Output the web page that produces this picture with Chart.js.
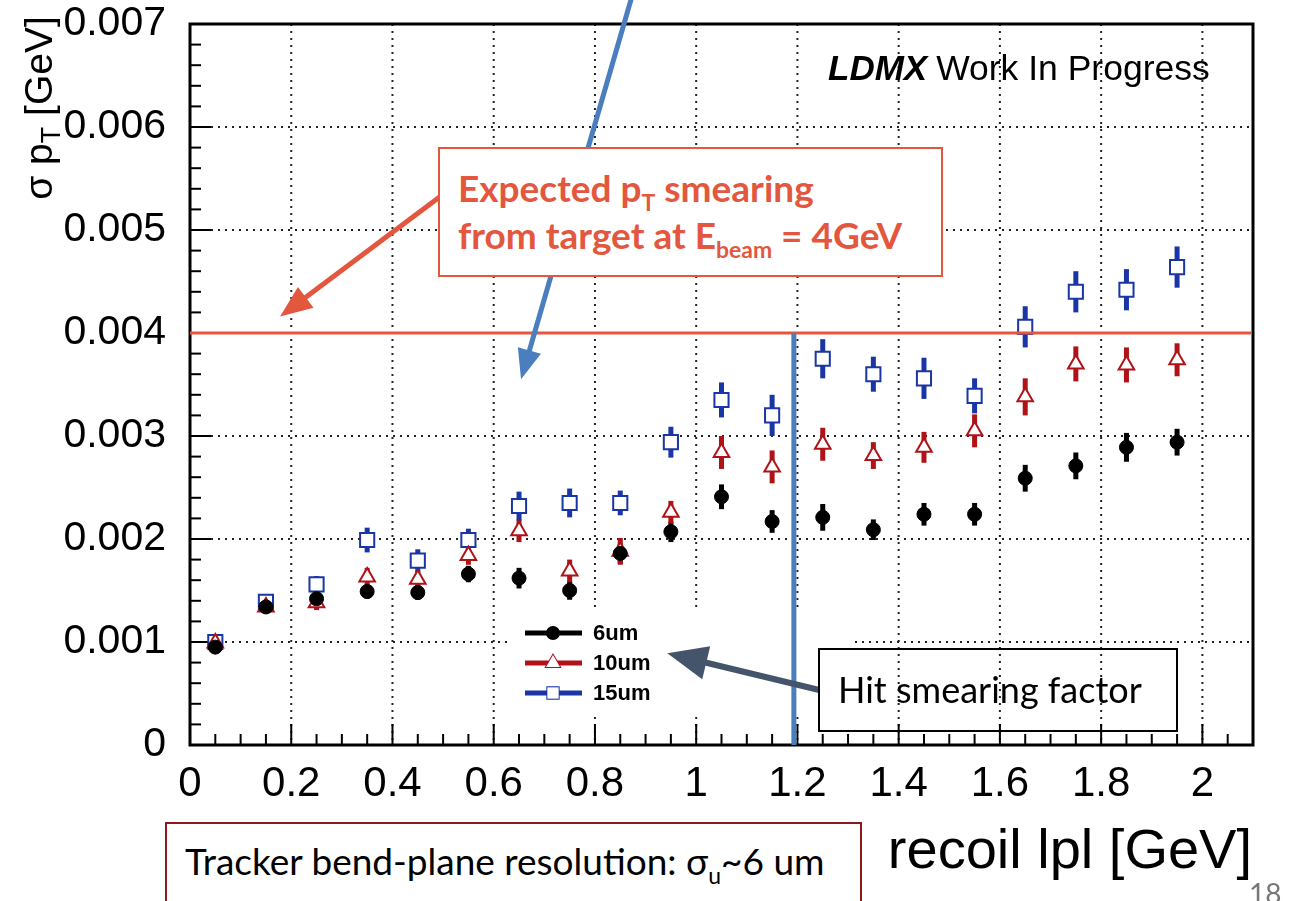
<!DOCTYPE html>
<html>
<head>
<meta charset="utf-8">
<script src="https://cdn.jsdelivr.net/npm/chart.js@4.4.0/dist/chart.umd.min.js"></script>
<style>
  body { margin: 0; background: #fff; overflow: hidden; }
  #wrap { position: relative; width: 1294px; height: 901px; overflow: hidden; }
  #chart { position: absolute; left: 0; top: 0; }
  .box { position: absolute; box-sizing: border-box; font-family: Lato, "Open Sans", sans-serif; white-space: nowrap; }
  .box sub { font-size: 0.62em; vertical-align: -0.38em; line-height: 0; }
  #expBox { left: 438px; top: 147px; width: 505px; height: 130px; border: 2px solid #e4573f; background: #fff;
            color: #e4573f; font-weight: bold; font-size: 37px; line-height: 47px; padding: 15px 0 0 18px; }
  #hitBox { left: 818px; top: 648px; width: 360px; height: 84px; border: 2px solid #000;
            color: #000; font-size: 36px; line-height: 40px; padding: 19px 0 0 18px; }
  #trkBox { left: 165px; top: 822px; width: 697px; height: 100px; border: 2px solid #8b1a1a; background: #fff;
            color: #000; font-size: 37px; line-height: 40px; padding: 17px 0 0 18px; }
  #pageNum { position: absolute; left: 1249px; top: 876px; font-family: Lato, sans-serif; font-size: 28px; color: #777; }
</style>
</head>
<body>
<div id="wrap">
  <canvas id="chart" width="1294" height="901"></canvas>
  <div class="box" id="expBox"><div>Expected p<sub>T</sub> smearing</div><div>from target at E<sub>beam</sub> = 4GeV</div></div>
  <div class="box" id="hitBox">Hit smearing factor</div>
  <div class="box" id="trkBox">Tracker bend-plane resolution: σ<sub>u</sub>~6 um</div>
  <div id="pageNum">18</div>
</div>
<script>
// recoil |p| bin centres [GeV]
const xVals = [0.05, 0.15, 0.25, 0.35, 0.45, 0.55, 0.65, 0.75, 0.85, 0.95,
               1.05, 1.15, 1.25, 1.35, 1.45, 1.55, 1.65, 1.75, 1.85, 1.95];

// sigma pT [GeV] for each hit smearing
const sigma6um = [0.00095, 0.00134, 0.00142, 0.00149, 0.00148, 0.00166, 0.00162, 0.0015, 0.00186, 0.00207,
                  0.00241, 0.00217, 0.00221, 0.00209, 0.00224, 0.00224, 0.00259, 0.00271, 0.00289, 0.00294];
const err6um   = [0.00004, 0.00005, 0.00006, 0.00007, 0.00007, 0.00008, 0.0001, 0.00009, 0.0001, 0.0001,
                  0.00012, 0.00011, 0.00013, 0.0001, 0.00011, 0.00011, 0.00013, 0.00013, 0.00014, 0.00013];

const sigma10um = [0.00099, 0.00134, 0.00138, 0.00163, 0.00161, 0.00184, 0.00208, 0.00169, 0.00188, 0.00226,
                   0.00284, 0.0027, 0.00292, 0.00281, 0.00289, 0.00305, 0.00338, 0.0037, 0.00369, 0.00374];
const err10um   = [0.00004, 0.00005, 0.00007, 0.00009, 0.00008, 0.00009, 0.00011, 0.00011, 0.00013, 0.00011,
                   0.00016, 0.00016, 0.00016, 0.00013, 0.00015, 0.00016, 0.00018, 0.00017, 0.00017, 0.00016];

const sigma15um = [0.001, 0.00139, 0.00156, 0.00199, 0.00179, 0.00199, 0.00232, 0.00235, 0.00235, 0.00294,
                   0.00335, 0.0032, 0.00375, 0.0036, 0.00356, 0.00339, 0.00406, 0.0044, 0.00442, 0.00464];
const err15um   = [0.00005, 0.00005, 0.00008, 0.00012, 0.00011, 0.00011, 0.00014, 0.00014, 0.00012, 0.00015,
                   0.00017, 0.0002, 0.00019, 0.00017, 0.0002, 0.00017, 0.0002, 0.0002, 0.0002, 0.0002];

const seriesNames = ['6um', '10um', '15um'];

// axis ticks
const xTicks = [0, 0.2, 0.4, 0.6, 0.8, 1, 1.2, 1.4, 1.6, 1.8, 2];
const xTickLabels = ['0', '0.2', '0.4', '0.6', '0.8', '1', '1.2', '1.4', '1.6', '1.8', '2'];
const yTicks = [0, 0.001, 0.002, 0.003, 0.004, 0.005, 0.006, 0.007];
const yTickLabels = ['0', '0.001', '0.002', '0.003', '0.004', '0.005', '0.006', '0.007'];

// overlay annotations, in data units
const expectedSmearing = 0.004;
const hitLineX = 1.193;
const blueArrow = [0.872, 0.00725, 0.654, 0.00355];
const redArrow = [0.493, 0.00532, 0.178, 0.00416];
const slateArrow = [1.243, 0.000534, 0.943, 0.00089];

const BLACK = '#000000';
const RED = '#b01218';
const BLUE = '#1a35a5';
const SLIDE_RED = '#e4573f';
const SLIDE_BLUE = '#4a7ebf';
const SLATE = '#44546a';
const FONT = '"Liberation Sans", Arial, Helvetica, sans-serif';

function toPoints(vals) {
  return vals.map((v, i) => ({ x: xVals[i], y: v }));
}

function line(ctx, x1, y1, x2, y2) {
  ctx.beginPath();
  ctx.moveTo(x1, y1);
  ctx.lineTo(x2, y2);
  ctx.stroke();
}

function arrow(ctx, x1, y1, x2, y2, color, width, headLen, headHalf) {
  const ang = Math.atan2(y2 - y1, x2 - x1);
  const bx = x2 - Math.cos(ang) * headLen;
  const by = y2 - Math.sin(ang) * headLen;
  ctx.save();
  ctx.strokeStyle = color;
  ctx.fillStyle = color;
  ctx.lineWidth = width;
  line(ctx, x1, y1, bx + Math.cos(ang) * 2, by + Math.sin(ang) * 2);
  ctx.beginPath();
  ctx.moveTo(x2, y2);
  ctx.lineTo(bx + Math.sin(ang) * headHalf, by - Math.cos(ang) * headHalf);
  ctx.lineTo(bx - Math.sin(ang) * headHalf, by + Math.cos(ang) * headHalf);
  ctx.closePath();
  ctx.fill();
  ctx.restore();
}

// ROOT-like frame: dotted grid, white legend pad, frame, inward ticks, error bars
const rootFrame = {
  id: 'rootFrame',
  beforeDatasetsDraw(chart) {
    const { ctx, chartArea: a, scales: { x, y } } = chart;
    ctx.save();

    // dotted grid
    ctx.strokeStyle = '#222';
    ctx.lineWidth = 2;
    ctx.setLineDash([2, 5]);
    xTicks.forEach(v => {
      if (v === 0) return;
      const px = x.getPixelForValue(v);
      line(ctx, px, a.top, px, a.bottom);
    });
    yTicks.forEach(v => {
      if (v === 0) return;
      const py = y.getPixelForValue(v);
      line(ctx, a.left, py, a.right, py);
    });
    ctx.setLineDash([]);

    // legend pad hides the grid
    ctx.fillStyle = '#fff';
    ctx.fillRect(a.left + 322, a.top + 586, 340, 103);

    // frame
    ctx.strokeStyle = '#000';
    ctx.lineWidth = 3;
    ctx.strokeRect(a.left, a.top, a.right - a.left, a.bottom - a.top);

    // inward ticks
    ctx.lineWidth = 2;
    for (let v = 0; v <= 2.1 + 1e-9; v += 0.05) {
      const px = x.getPixelForValue(v);
      const major = Math.abs(v / 0.2 - Math.round(v / 0.2)) < 1e-6;
      line(ctx, px, a.bottom, px, a.bottom - (major ? 21 : 11));
    }
    for (let v = 0; v <= 0.007 + 1e-9; v += 0.0002) {
      const py = y.getPixelForValue(v);
      const major = Math.abs(v / 0.001 - Math.round(v / 0.001)) < 1e-6;
      line(ctx, a.left, py, a.left + (major ? 21 : 11), py);
    }

    // error bars
    const sets = [[sigma6um, err6um, BLACK], [sigma10um, err10um, RED], [sigma15um, err15um, BLUE]];
    ctx.lineWidth = 5;
    sets.forEach(([vals, errs, col]) => {
      ctx.strokeStyle = col;
      vals.forEach((v, i) => {
        const px = x.getPixelForValue(xVals[i]);
        line(ctx, px, y.getPixelForValue(v - errs[i]), px, y.getPixelForValue(v + errs[i]));
      });
    });
    ctx.restore();
  },
  afterDatasetsDraw(chart) {
    const { ctx, chartArea: a, scales: { x, y } } = chart;
    ctx.save();

    // legend entries
    const legendStyles = [
      { color: BLACK, style: 'circle', r: 6, fill: BLACK },
      { color: RED, style: 'triangle', r: 8, fill: '#fff' },
      { color: BLUE, style: 'rect', r: 8, fill: '#fff' }
    ];
    legendStyles.forEach((s, i) => {
      const rowY = a.top + 609 + i * 30;
      ctx.strokeStyle = s.color;
      ctx.lineWidth = 5;
      line(ctx, a.left + 335, rowY, a.left + 392, rowY);
      ctx.fillStyle = s.fill;
      ctx.lineWidth = 2;
      Chart.helpers.drawPoint(ctx, { pointStyle: s.style, radius: s.r, borderWidth: 2 }, a.left + 363, rowY);
      ctx.fill();
      ctx.fillStyle = '#000';
      ctx.font = 'bold 22px ' + FONT;
      ctx.textBaseline = 'middle';
      ctx.fillText(seriesNames[i], a.left + 403, rowY + 1);
    });

    // LDMX Work In Progress
    ctx.textBaseline = 'alphabetic';
    ctx.fillStyle = '#000';
    ctx.font = 'italic bold 35px ' + FONT;
    ctx.fillText('LDMX', 828, 80);
    const lw = ctx.measureText('LDMX').width;
    ctx.font = '35.5px ' + FONT;
    ctx.fillText('Work In Progress', 828 + lw + 9, 80);

    // expected smearing line
    const yRef = y.getPixelForValue(expectedSmearing);
    ctx.strokeStyle = SLIDE_RED;
    ctx.lineWidth = 3;
    line(ctx, a.left, yRef, a.right - 2, yRef);

    // hit smearing marker line
    const xHit = x.getPixelForValue(hitLineX);
    ctx.strokeStyle = SLIDE_BLUE;
    ctx.lineWidth = 5;
    line(ctx, xHit, yRef, xHit, a.bottom);

    const px = (v) => x.getPixelForValue(v);
    const py = (v) => y.getPixelForValue(v);
    arrow(ctx, px(blueArrow[0]), py(blueArrow[1]), px(blueArrow[2]), py(blueArrow[3]), SLIDE_BLUE, 5, 30, 12);
    arrow(ctx, px(redArrow[0]), py(redArrow[1]), px(redArrow[2]), py(redArrow[3]), SLIDE_RED, 5, 32, 13);
    arrow(ctx, px(slateArrow[0]), py(slateArrow[1]), px(slateArrow[2]), py(slateArrow[3]), SLATE, 6, 40, 17);

    // y axis title: sigma p_T [GeV]
    ctx.save();
    ctx.translate(52, 108);
    ctx.rotate(-Math.PI / 2);
    ctx.fillStyle = '#000';
    const big = '39px ' + FONT, small = '27px ' + FONT;
    ctx.font = big;
    const w1 = ctx.measureText('σ p').width;
    const w3 = ctx.measureText(' [GeV]').width;
    ctx.font = small;
    const w2 = ctx.measureText('T').width;
    let cx = -(w1 + w2 + w3) / 2;
    ctx.textAlign = 'left';
    ctx.font = big;
    ctx.fillText('σ p', cx, 0);
    cx += w1;
    ctx.font = small;
    ctx.fillText('T', cx, 8);
    cx += w2;
    ctx.font = big;
    ctx.fillText(' [GeV]', cx, 0);
    ctx.restore();

    // x axis title
    ctx.font = '56px ' + FONT;
    ctx.textAlign = 'right';
    ctx.fillStyle = '#000';
    ctx.fillText('recoil lpl [GeV]', 1252, 868);

    ctx.restore();
  }
};

new Chart(document.getElementById('chart'), {
  type: 'scatter',
  data: {
    datasets: [
      { label: seriesNames[0], data: toPoints(sigma6um), pointStyle: 'circle', pointRadius: 7,
        backgroundColor: BLACK, borderColor: BLACK, borderWidth: 1 },
      { label: seriesNames[1], data: toPoints(sigma10um), pointStyle: 'triangle', pointRadius: 9,
        backgroundColor: '#fff', borderColor: RED, borderWidth: 2 },
      { label: seriesNames[2], data: toPoints(sigma15um), pointStyle: 'rect', pointRadius: 10,
        backgroundColor: '#fff', borderColor: BLUE, borderWidth: 2 }
    ]
  },
  options: {
    responsive: false,
    devicePixelRatio: 1,
    animation: false,
    events: [],
    layout: { padding: { top: 24, right: 41, left: 0, bottom: 0 } },
    plugins: { legend: { display: false }, tooltip: { enabled: false } },
    scales: {
      x: {
        type: 'linear', min: 0, max: 2.1,
        afterFit(scale) { scale.height = 156; scale.paddingLeft = 0; scale.paddingRight = 0; },
        afterBuildTicks(axis) { axis.ticks = xTicks.map(v => ({ value: v })); },
        grid: { display: false, drawTicks: false },
        border: { display: false },
        ticks: {
          padding: 14, color: '#000', maxRotation: 0, autoSkip: false,
          font: { family: FONT, size: 42 },
          callback: (v) => xTickLabels[xTicks.indexOf(v)]
        }
      },
      y: {
        type: 'linear', min: 0, max: 0.007,
        afterFit(scale) { scale.width = 190; scale.paddingTop = 0; scale.paddingBottom = 0; },
        afterBuildTicks(axis) { axis.ticks = yTicks.map(v => ({ value: v })); },
        grid: { display: false, drawTicks: false },
        border: { display: false },
        ticks: {
          padding: 24, color: '#000', autoSkip: false,
          font: { family: FONT, size: 41 },
          callback: (v) => yTickLabels[yTicks.indexOf(v)]
        }
      }
    }
  },
  plugins: [rootFrame]
});
</script>
</body>
</html>
